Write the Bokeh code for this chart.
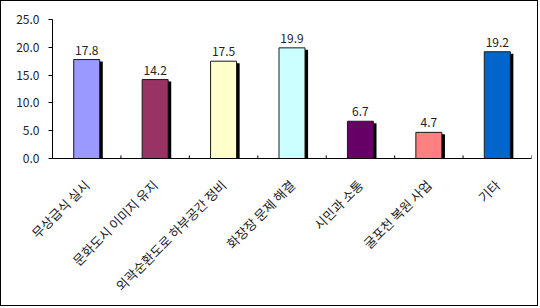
from math import pi

from bokeh.plotting import figure
from bokeh.models import ColumnDataSource, FactorRange, FixedTicker, NumeralTickFormatter
from bokeh.transform import dodge
from bokeh.core.properties import value
from bokeh.embed import file_html
from bokeh.resources import INLINE

# Survey results (%) per item
categories = [
    "무상급식 실시",
    "문화도시 이미지 유지",
    "외곽순환도로 하부공간 정비",
    "화장장 문제 해결",
    "시민과 소통",
    "굴포천 복원 사업",
    "기타",
]
values = [17.8, 14.2, 17.5, 19.9, 6.7, 4.7, 19.2]
bar_colors = ["#9999FF", "#993366", "#FFFFCC", "#CCFFFF", "#660066", "#FF8080", "#0066CC"]
y_ticks = [0, 5, 10, 15, 20, 25]

FONT = "Noto Sans CJK KR"

source = ColumnDataSource(dict(
    cat=categories,
    val=values,
    shadow_top=[v - 0.35 for v in values],
    color=bar_colors,
    label=[f"{v:.1f}" for v in values],
    zero=[0.0] * len(values),
    tick_top=[0.55] * len(values),
))

p = figure(
    x_range=FactorRange(*categories, range_padding=0),
    y_range=(0, 25),
    width=538, height=306,
    min_border_left=51, min_border_top=18, min_border_right=8, min_border_bottom=149,
    output_backend="svg", toolbar_location=None,
)
p.styles = {"border": "1px solid #000000"}
p.outline_line_color = None
p.background_fill_color = "white"
p.border_fill_color = "white"
p.xgrid.visible = False
p.ygrid.visible = False

# drop shadow behind each bar
p.vbar(x=dodge("cat", 0.045, range=p.x_range), top="shadow_top", bottom=0, width=0.38,
       source=source, fill_color="#000000", line_color=None)
# bars
p.vbar(x="cat", top="val", bottom=0, width=0.38, source=source,
       fill_color="color", line_color="#1a1a1a", line_width=1)

# value labels above the bars
p.text(x="cat", y="val", text="label", source=source, y_offset=-5,
       text_align="center", text_baseline="bottom",
       text_font=value(FONT), text_font_size="12px", text_color="#222222")

# small inward tick marks at the category boundaries
p.segment(x0=dodge("cat", 0.5, range=p.x_range), y0="zero",
          x1=dodge("cat", 0.5, range=p.x_range), y1="tick_top",
          source=source, line_color="#000000", line_width=1)

# y axis
p.yaxis.ticker = FixedTicker(ticks=y_ticks)
p.yaxis.formatter = NumeralTickFormatter(format="0.0")
p.yaxis.minor_tick_line_color = None
p.yaxis.major_tick_in = 0
p.yaxis.major_tick_out = 4
p.yaxis.major_label_standoff = 9
p.yaxis.axis_line_color = "#000000"
p.yaxis.major_tick_line_color = "#000000"
p.yaxis.major_label_text_font = FONT
p.yaxis.major_label_text_font_size = "12px"
p.yaxis.major_label_text_color = "#222222"

# x axis with rotated category names
p.xaxis.major_tick_line_color = None
p.xaxis.axis_line_color = "#000000"
p.xaxis.major_label_orientation = pi / 4
p.xaxis.major_label_standoff = 18
p.xaxis.major_label_text_font = FONT
p.xaxis.major_label_text_font_size = "13px"
p.xaxis.major_label_text_color = "#222222"

open("out.html", "w").write(file_html(p, INLINE))
